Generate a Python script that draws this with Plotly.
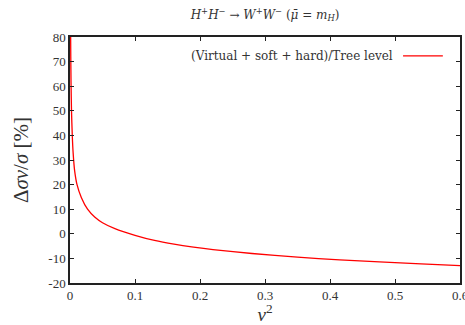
import plotly.graph_objects as go

v2 = [0.001, 0.0012, 0.0016, 0.0023, 0.0035, 0.0048, 0.0072, 0.0108, 0.0174,
      0.027, 0.0384, 0.05, 0.0691, 0.1, 0.13, 0.16, 0.19, 0.22, 0.28, 0.35,
      0.415, 0.476, 0.54, 0.6]
dsv = [80, 72, 61.5, 50, 40, 33, 25.5, 20, 14.8,
       10, 6.7, 4.5, 2.1, -0.6, -2.7, -4.2, -5.4, -6.4, -8.0, -9.5,
       -10.6, -11.4, -12.2, -12.9]

xticks = [0, 0.1, 0.2, 0.3, 0.4, 0.5, 0.6]
xticklabels = ["0", "0.1", "0.2", "0.3", "0.4", "0.5", "0.6"]
yticks = [-20, -10, 0, 10, 20, 30, 40, 50, 60, 70, 80]
yticklabels = ["-20", "-10", "0", "10", "20", "30", "40", "50", "60", "70", "80"]

series_name = "(Virtual + soft + hard)/Tree level"

FONT = "Liberation Serif"
FONT2 = "DejaVu Serif"
TXT = "#333333"

fig = go.Figure()
fig.add_trace(go.Scatter(x=v2, y=dsv, mode="lines", name=series_name,
                         line=dict(color="#ff0000", width=1.3, shape="spline", smoothing=0.6),
                         showlegend=False))

axis_common = dict(showgrid=False, zeroline=False, showline=True, linecolor="#222222",
                   linewidth=1.5, mirror="ticks", ticks="inside", ticklen=4,
                   tickcolor="#222222", tickwidth=1, ticklabeloverflow="allow",
                   automargin=False,
                   tickfont=dict(family=FONT, size=13, color=TXT))

fig.update_layout(
    width=465, height=325,
    margin=dict(l=70, r=5, t=37, b=42),
    paper_bgcolor="white", plot_bgcolor="white",
    title=dict(text="<i>H</i><sup>+</sup><i>H</i><sup>−</sup> → <i>W</i><sup>+</sup><i>W</i><sup>−</sup> (<i>μ̄</i> = <i>m<sub>H</sub></i>)",
               x=0.57, xanchor="center", y=0.955, yanchor="middle",
               font=dict(family=FONT2, size=12, color=TXT)),
    xaxis=dict(range=[0, 0.6], tickvals=xticks, ticktext=xticklabels,
               title=dict(text="<i>v</i><sup>2</sup>", font=dict(family=FONT, size=19, color=TXT), standoff=5),
               **axis_common),
    yaxis=dict(range=[-20, 80], tickvals=yticks, ticktext=yticklabels,
               title=dict(text="Δ<i>σv</i>/<i>σ</i> [%]", font=dict(family=FONT, size=21, color=TXT), standoff=14),
               **axis_common),
    showlegend=False,
)

fig.add_annotation(text=series_name, xref="paper", yref="paper", x=0.833, y=0.923,
                   xanchor="right", yanchor="middle", showarrow=False,
                   font=dict(family=FONT2, size=12, color=TXT))
fig.add_shape(type="line", xref="paper", yref="paper", x0=0.854, x1=0.956, y0=0.923, y1=0.923,
              line=dict(color="#ff0000", width=1.3))

fig.write_html("out.html")
